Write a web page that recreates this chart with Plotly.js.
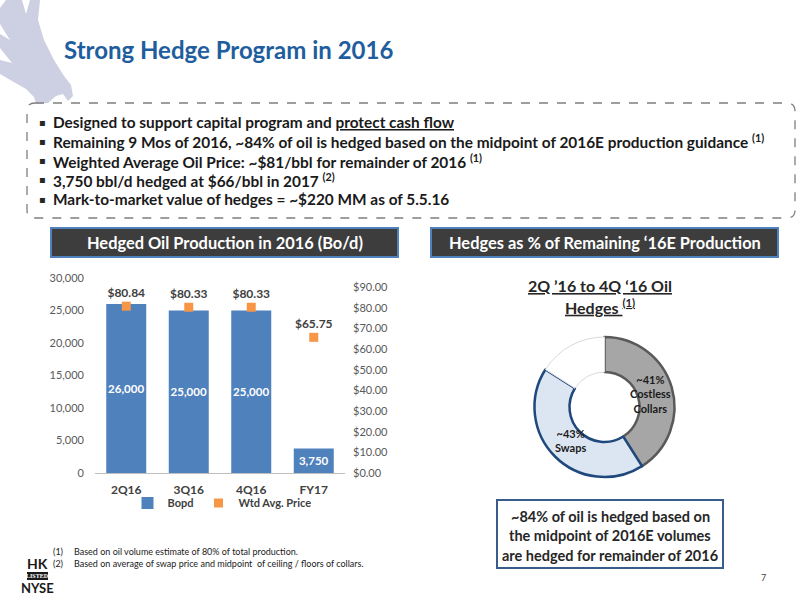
<!DOCTYPE html>
<html>
<head>
<meta charset="utf-8">
<script src="https://cdn.plot.ly/plotly-3.0.1.min.js"></script>
<style>html,body{margin:0;padding:0;background:#fff;}#chart{width:800px;height:600px;}</style>
</head>
<body>
<div id="chart"></div>
<script>
// ---------- data ----------
const categories = ['2Q16', '3Q16', '4Q16', 'FY17'];
const bopd = [26000, 25000, 25000, 3750];
const wtdPrice = [80.84, 80.33, 80.33, 65.75];
const barSeriesName = 'Bopd';
const priceSeriesName = 'Wtd Avg. Price';

const hedgeLabels = ['Costless Collars', 'Swaps', 'Unhedged'];
const hedgePct = [41, 43, 16];
const hedgeText = ['~41%<br>Costless<br>Collars', '~43%<br>Swaps', ''];

const pageTitle = 'Strong Hedge Program in 2016';
const bullets = [
  'Designed to support capital program and <span style="text-decoration:underline">protect cash flow</span>',
  'Remaining 9 Mos of 2016, ~84% of oil is hedged based on the midpoint of 2016E production guidance <sup>(1)</sup>',
  'Weighted Average Oil Price: ~$81/bbl for remainder of 2016 <sup>(1)</sup>',
  '3,750 bbl/d hedged at $66/bbl in 2017 <sup>(2)</sup>',
  'Mark-to-market value of hedges = ~$220 MM as of 5.5.16'
];
const leftHeader = 'Hedged Oil Production in 2016 (Bo/d)';
const rightHeader = 'Hedges as % of Remaining ‘16E Production';
const donutTitle1 = '2Q ’16 to 4Q ‘16 Oil';
const donutTitle2 = 'Hedges <sup>(1)</sup>';
const noteLines = ['~84% of oil is hedged based on', 'the midpoint of 2016E volumes', 'are hedged for remainder of 2016'];
const footnotes = [
  ['(1)', 'Based on oil volume estimate of 80% of total production.'],
  ['(2)', 'Based on average of swap price and midpoint  of ceiling / floors of collars.']
];

// ---------- helpers ----------
const W = 800, H = 600;
const px = x => x / W;
const py = y => 1 - y / H;
const FONT = 'Lato, "Open Sans", sans-serif';

function ann(text, x, y, opts) {
  return Object.assign({
    text: text, xref: 'paper', yref: 'paper', x: px(x), y: py(y),
    showarrow: false, xanchor: 'left', yanchor: 'middle',
    font: {family: FONT, size: 14, color: '#1a1a1a'}
  }, opts || {});
}
function roundRectPath(x0, y0, x1, y1, r) {
  const p = (x, y) => px(x) + ',' + py(y);
  return 'M ' + p(x0 + r, y0) + ' L ' + p(x1 - r, y0) + ' Q ' + p(x1, y0) + ' ' + p(x1, y0 + r) +
    ' L ' + p(x1, y1 - r) + ' Q ' + p(x1, y1) + ' ' + p(x1 - r, y1) +
    ' L ' + p(x0 + r, y1) + ' Q ' + p(x0, y1) + ' ' + p(x0, y1 - r) +
    ' L ' + p(x0, y0 + r) + ' Q ' + p(x0, y0) + ' ' + p(x0 + r, y0) + ' Z';
}
function polyPath(pts) {
  return 'M ' + pts.map(q => px(q[0]) + ',' + py(q[1])).join(' L ') + ' Z';
}

// ---------- traces ----------
const barTrace = {
  type: 'bar', x: categories, y: bopd, name: barSeriesName,
  marker: {color: '#4F81BD'},
  text: bopd.map(v => v.toLocaleString('en-US')),
  textposition: 'inside', insidetextanchor: 'middle', textangle: 0, constraintext: 'none',
  textfont: {family: FONT, size: 11.5, color: '#ffffff', weight: 'bold'},
  hoverinfo: 'skip'
};
const priceTrace = {
  type: 'scatter', mode: 'markers+text', x: categories, y: wtdPrice, yaxis: 'y2',
  name: priceSeriesName,
  marker: {symbol: 'square', size: 9, color: '#F79646'},
  text: wtdPrice.map(v => '$' + v.toFixed(2)),
  textposition: 'top center',
  textfont: {family: FONT, size: 12, color: '#404040', weight: 'bold'},
  cliponaxis: false, hoverinfo: 'skip'
};

const pieDom = {x0: 534, x1: 675, y0: 337, y1: 477};
const pieTrace = {
  type: 'pie', values: hedgePct, labels: hedgeLabels, hole: 0.5,
  sort: false, direction: 'clockwise', rotation: 0,
  domain: {x: [px(pieDom.x0), px(pieDom.x1)], y: [py(pieDom.y1), py(pieDom.y0)]},
  marker: {colors: ['#A6A6A6', '#DCE6F2', '#FFFFFF'],
           line: {color: ['#595959', '#1F497D', '#D9D9D9'], width: [2.5, 2.5, 1]}},
  textinfo: 'none', showlegend: false, hoverinfo: 'skip'
};

// slice labels placed from the data angles
const total = hedgePct.reduce((a, b) => a + b, 0);
const cx = (pieDom.x0 + pieDom.x1) / 2, cy = (pieDom.y0 + pieDom.y1) / 2;
const rOut = Math.min(pieDom.x1 - pieDom.x0, pieDom.y1 - pieDom.y0) / 2;
const sliceAnns = [];
let cum = 0;
hedgePct.forEach((v, i) => {
  const mid = (cum + v / 2) / total * 2 * Math.PI;
  cum += v;
  if (!hedgeText[i]) return;
  const rr = rOut * 0.68;
  sliceAnns.push(ann('<b>' + hedgeText[i] + '</b>', cx + rr * Math.sin(mid), cy - rr * Math.cos(mid),
    {xanchor: 'center', align: 'center', font: {family: FONT, size: 11, color: '#1a1a1a'}}));
});

// ---------- annotations ----------
const annotations = [];
annotations.push(ann('<b>' + pageTitle + '</b>', 62, 49, {font: {family: FONT, size: 24, color: '#1F5E9E'}}));
bullets.forEach((b, i) => {
  const y = 122 + i * 19.3;
  annotations.push(ann('▪', 37, y, {font: {family: 'DejaVu Sans', size: 10, color: '#262626'}}));
  annotations.push(ann('<b>' + b + '</b>', 51, y, {font: {family: FONT, size: 15.4, color: '#1a1a1a'}}));
});
annotations.push(ann('<b>' + leftHeader + '</b>', 225, 242, {xanchor: 'center', font: {family: FONT, size: 16.4, color: '#ffffff'}}));
annotations.push(ann('<b>' + rightHeader + '</b>', 604.5, 242, {xanchor: 'center', font: {family: FONT, size: 16.4, color: '#ffffff'}}));
annotations.push(ann('<b><span style="text-decoration:underline">' + donutTitle1 + '</span></b>', 600, 285, {xanchor: 'center', font: {family: FONT, size: 16, color: '#262626'}}));
annotations.push(ann('<b><span style="text-decoration:underline">' + donutTitle2 + '</span></b>', 600, 306, {xanchor: 'center', font: {family: FONT, size: 16, color: '#262626'}}));
noteLines.forEach((t, i) => {
  annotations.push(ann('<b>' + t + '</b>', 610, 516 + i * 19.5, {xanchor: 'center', font: {family: FONT, size: 14.5, color: '#262626'}}));
});
footnotes.forEach((f, i) => {
  const y = 551 + i * 12;
  annotations.push(ann(f[0], 51, y, {font: {family: FONT, size: 9, color: '#1a1a1a'}}));
  annotations.push(ann(f[1], 72, y, {font: {family: FONT, size: 9, color: '#1a1a1a'}}));
});
annotations.push(ann('<b>HK</b>', 37, 563, {xanchor: 'center', font: {family: FONT, size: 14, color: '#1a1a1a'}}));
annotations.push(ann('<b>LISTED</b>', 37.5, 576, {xanchor: 'center', font: {family: 'Liberation Serif', size: 6, color: '#ffffff'}}));
annotations.push(ann('<b>NYSE</b>', 37, 588, {xanchor: 'center', font: {family: FONT, size: 13, color: '#1a1a1a'}}));
annotations.push(ann('7', 763, 577, {xanchor: 'center', font: {family: FONT, size: 9, color: '#404040'}}));
sliceAnns.forEach(a => annotations.push(a));

// ---------- shapes ----------
const eagle = [[6,0],[22,0],[26,14],[30,0],[40,0],[38,20],[44,40],[54,60],[64,76],[71,85],[73,96],[68,101],[63,94],[56,96],[48,103],[36,104],[34,97],[26,89],[12,81],[0,74],[0,60],[12,63],[0,48],[0,34],[10,40],[0,24],[0,8]];
const shapes = [
  {type: 'path', xref: 'paper', yref: 'paper', path: polyPath(eagle), fillcolor: '#CDD0E2', line: {width: 0}, layer: 'below'},
  {type: 'path', xref: 'paper', yref: 'paper', path: roundRectPath(27, 103, 795, 218, 8), line: {color: '#7F7F7F', width: 1.3, dash: 'dash'}},
  {type: 'rect', xref: 'paper', yref: 'paper', x0: px(51), x1: px(398), y0: py(257), y1: py(228), fillcolor: '#3D3D3D', line: {color: '#4F81BD', width: 2}, layer: 'below'},
  {type: 'rect', xref: 'paper', yref: 'paper', x0: px(431), x1: px(778), y0: py(257), y1: py(228), fillcolor: '#3D3D3D', line: {color: '#4F81BD', width: 2}, layer: 'below'},
  {type: 'rect', xref: 'paper', yref: 'paper', x0: px(497), x1: px(723), y0: py(568), y1: py(500), fillcolor: 'rgba(0,0,0,0)', line: {color: '#385D8A', width: 2}},
  {type: 'rect', xref: 'paper', yref: 'paper', x0: px(27), x1: px(48), y0: py(580), y1: py(572), fillcolor: '#1a1a1a', line: {width: 0}, layer: 'below'}
];

// ---------- layout ----------
const layout = {
  width: W, height: H, margin: {l: 0, r: 0, t: 0, b: 0},
  paper_bgcolor: '#ffffff', plot_bgcolor: 'rgba(0,0,0,0)',
  font: {family: FONT, color: '#404040'},
  showlegend: true,
  legend: {orientation: 'h', x: px(222), xanchor: 'center', y: py(503), yanchor: 'middle',
           font: {family: FONT, size: 11, color: '#404040', weight: 'bold'}, bgcolor: 'rgba(0,0,0,0)',
           itemwidth: 30, tracegroupgap: 0},
  bargap: 0.36,
  xaxis: {domain: [px(95), px(345)], type: 'category', categoryorder: 'array', categoryarray: categories,
          showline: true, linecolor: '#BFBFBF', linewidth: 1, ticks: '', showgrid: false,
          tickfont: {family: FONT, size: 12, color: '#404040', weight: 'bold'}, ticklabelstandoff: 6,
          fixedrange: true},
  yaxis: {domain: [py(473), py(278)], range: [0, 30000], dtick: 5000, tickformat: ',d',
          showgrid: false, zeroline: false, showline: false, ticks: '',
          tickfont: {family: FONT, size: 11, color: '#595959'}, ticklabelstandoff: 10, fixedrange: true},
  yaxis2: {overlaying: 'y', side: 'right', range: [0, 94.5], tickvals: [0,10,20,30,40,50,60,70,80,90],
           tickformat: '$.2f', showgrid: false, zeroline: false, showline: false, ticks: '',
           tickfont: {family: FONT, size: 11, color: '#595959'}, ticklabelstandoff: 7, fixedrange: true},
  shapes: shapes,
  annotations: annotations
};

Plotly.newPlot('chart', [barTrace, priceTrace, pieTrace], layout, {displayModeBar: false, staticPlot: true});
</script>
</body>
</html>
